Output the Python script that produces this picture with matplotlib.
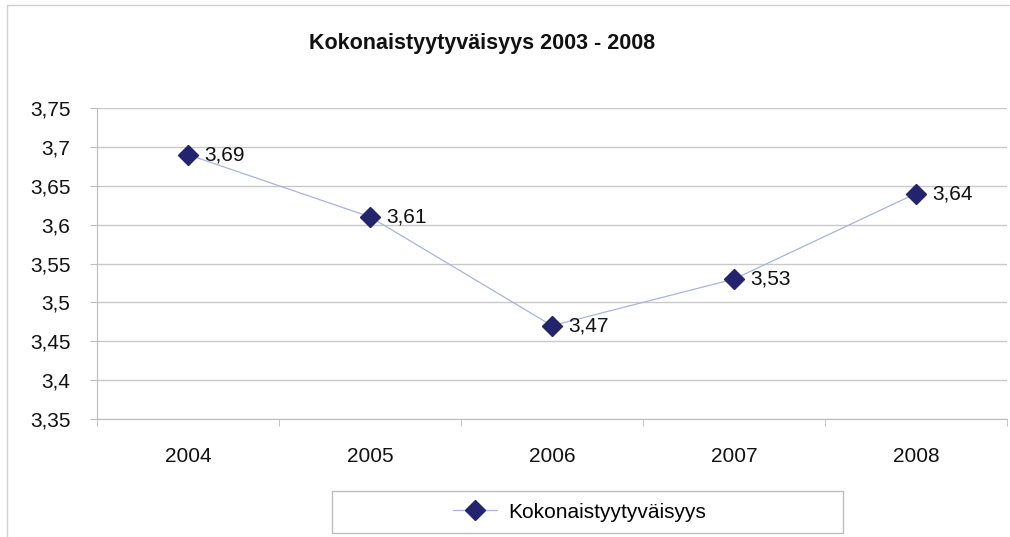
import numpy as np
import matplotlib.pyplot as plt
from matplotlib.patches import Rectangle
from matplotlib.ticker import FuncFormatter, FixedLocator

plt.rcParams['font.family'] = ['Liberation Sans', 'DejaVu Sans']

years = ["2004", "2005", "2006", "2007", "2008"]
values = [3.69, 3.61, 3.47, 3.53, 3.64]
series_name = "Kokonaistyytyväisyys"
title = "Kokonaistyytyväisyys 2003 - 2008"

W, H = 1010, 537
fs = 15
fig = plt.figure(figsize=(W / 100, H / 100), dpi=100)
ax = fig.add_axes([97 / W, 1 - 419 / H, 910 / W, (419 - 108) / H])

x = np.arange(len(years))
navy = "#23236e"
ax.plot(x, values, color="#a9b3dd", lw=0.9, marker="D", ms=10.5,
        mfc=navy, mec=navy, label=series_name, zorder=3, clip_on=False)
for xi, v in zip(x, values):
    ax.annotate(f"{v:.2f}".replace(".", ","), (xi, v), xytext=(12, 0),
                textcoords="offset points", va="center", ha="left",
                fontsize=fs, color="#111111")

ax.set_xlim(-0.5, len(years) - 0.5)
ax.set_ylim(3.35, 3.75)
ax.set_yticks(np.arange(3.35, 3.7501, 0.05))
ax.yaxis.set_major_formatter(FuncFormatter(lambda v, p: f"{round(v, 2):g}".replace(".", ",")))
ax.set_xticks(x)
ax.set_xticklabels(years)
# category boundary ticks, as in a spreadsheet chart
ax.xaxis.set_minor_locator(FixedLocator(np.arange(-0.5, len(years), 1.0)))

ax.grid(axis="y", color="#c8c8c8", lw=1)
ax.set_axisbelow(True)
for s in ["top", "right"]:
    ax.spines[s].set_visible(False)
for s in ["left", "bottom"]:
    ax.spines[s].set_color("#bdbdbd")
ax.tick_params(axis="y", length=5, color="#bdbdbd", pad=14, labelsize=fs, labelcolor="#111111")
ax.tick_params(axis="x", which="major", length=0, pad=20, labelsize=fs, labelcolor="#111111")
ax.tick_params(axis="x", which="minor", length=5, color="#bdbdbd")

fig.text(482 / W, 1 - 43 / H, title, ha="center", va="center",
         fontsize=15.5, fontweight="bold", color="#111111")

# outer chart frame (right and bottom edges fall outside the picture)
fig.patches.append(Rectangle((7 / W, -0.05), 1.1, 1 - 5 / H + 0.05,
                             transform=fig.transFigure, fill=False,
                             ec="#cfcfcf", lw=1))
# legend box
fig.patches.append(Rectangle((332 / W, 1 - 533 / H), 511 / W, 42 / H,
                             transform=fig.transFigure, fill=False,
                             ec="#bdbdbd", lw=1))
fig.legend(loc="center", bbox_to_anchor=(580 / W, 1 - 512 / H), frameon=False,
           fontsize=fs, handlelength=2.1, handletextpad=0.55)

fig.savefig("out.png", dpi=100)
